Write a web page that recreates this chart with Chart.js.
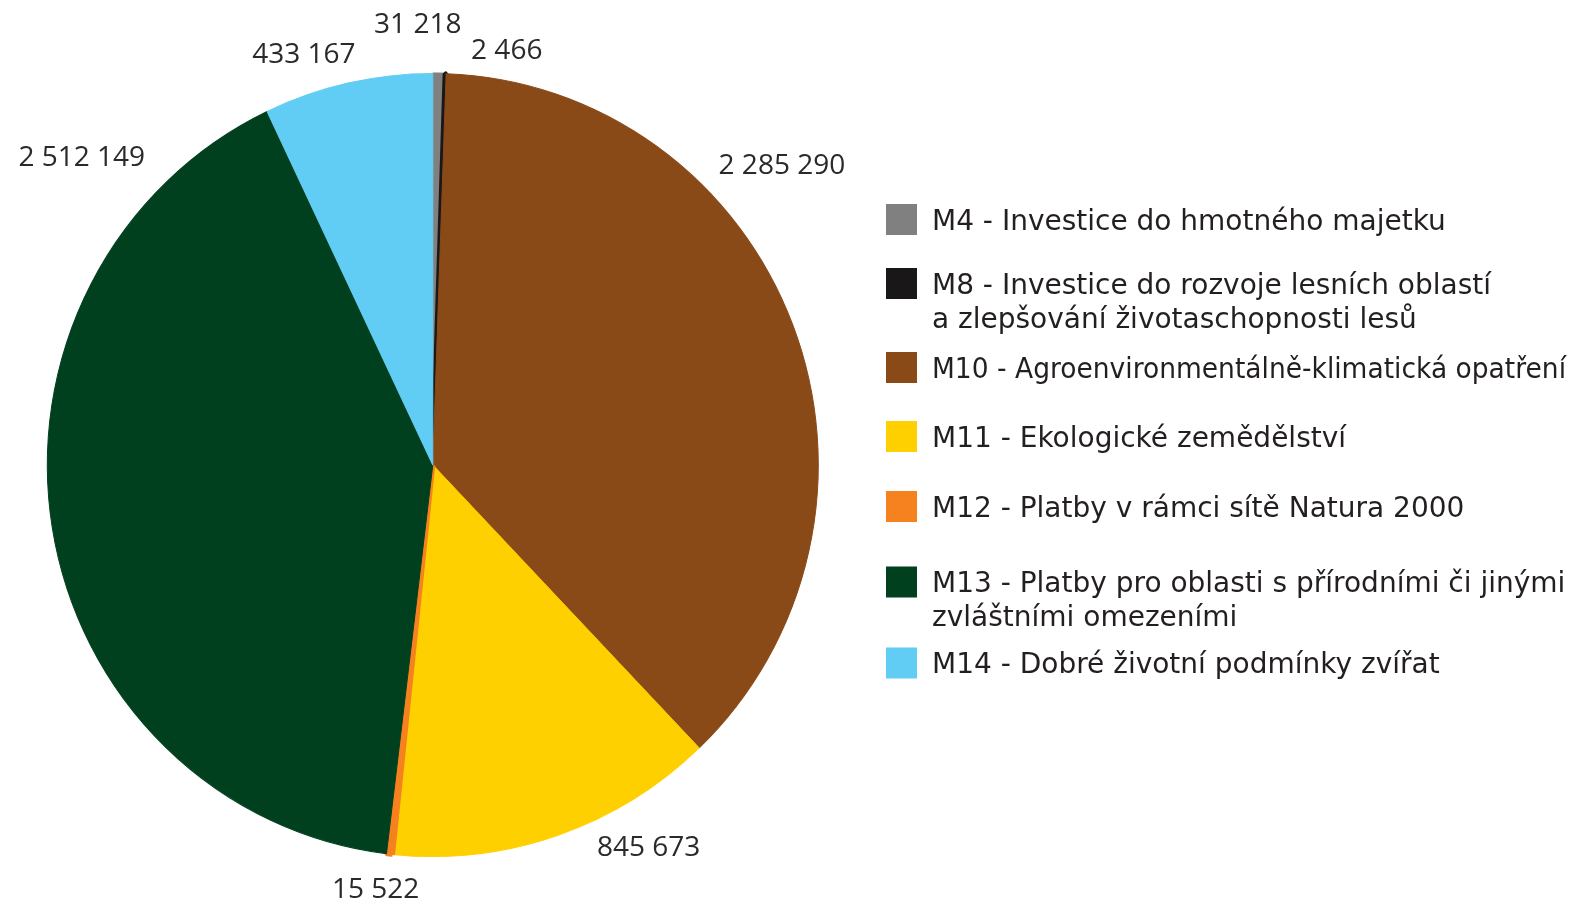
<!DOCTYPE html>
<html>
<head>
<meta charset="utf-8">
<script src="https://cdn.jsdelivr.net/npm/chart.js@4/dist/chart.umd.min.js"></script>
<style>
html,body{margin:0;padding:0;background:#ffffff;overflow:hidden}
canvas{display:block}
</style>
</head>
<body>
<canvas id="c" width="1591" height="909"></canvas>
<script>
// ---- data ----
const categories = [
  'M4 - Investice do hmotného majetku',
  ['M8 - Investice do rozvoje lesních oblastí', 'a zlepšování životaschopnosti lesů'],
  'M10 - Agroenvironmentálně-klimatická opatření',
  'M11 - Ekologické zemědělství',
  'M12 - Platby v rámci sítě Natura 2000',
  ['M13 - Platby pro oblasti s přírodními či jinými', 'zvláštními omezeními'],
  'M14 - Dobré životní podmínky zvířat'
];
const values = [31218, 2466, 2285290, 845673, 15522, 2512149, 433167];

// ---- styles ----
const sliceColors = ['#808080', '#1a1718', '#8a4a18', '#ffd000', '#f5821f', '#00401f', '#62cdf4'];
const sliceBorderWidths = [2, 5, 1, 1, 5, 1, 1];
// label placement: angle (deg clockwise from top) and distance relative to outer radius
const labelPlacement = [
  {angle: -1.95, dist: 1.146},
  {angle: 10.07, dist: 1.097},
  {angle: 49.27, dist: 1.195},
  {angle: 150.5, dist: 1.137},
  {angle: 187.7, dist: 1.108},
  {angle: 311.4, dist: 1.214},
  {angle: 342.6, dist: 1.119}
];

function fmt(v) {
  return String(v).replace(/\B(?=(\d{3})+(?!\d))/g, ' ');
}

// slight vertical stretch of the pie (the original is a little taller than wide)
const stretch = {
  id: 'stretch',
  beforeDatasetsDraw(chart, args, opts) {
    const arc = chart.getDatasetMeta(0).data[0];
    const ctx = chart.ctx;
    ctx.save();
    ctx.translate(arc.x, arc.y);
    ctx.scale(1, opts.ky);
    ctx.translate(-arc.x, -arc.y);
  },
  afterDatasetsDraw(chart) {
    chart.ctx.restore();
  }
};

const valueLabels = {
  id: 'valueLabels',
  afterDatasetsDraw(chart, args, opts) {
    const meta = chart.getDatasetMeta(0);
    const ctx = chart.ctx;
    const data = chart.data.datasets[0].data;
    ctx.save();
    ctx.font = opts.fontSize + 'px ' + opts.fontFamily;
    ctx.fillStyle = opts.color;
    ctx.textAlign = 'center';
    ctx.textBaseline = 'alphabetic';
    meta.data.forEach((arc, i) => {
      const p = opts.placement[i];
      const a = p.angle * Math.PI / 180;
      const r = arc.outerRadius * p.dist;
      const x = arc.x + Math.sin(a) * r;
      const y = arc.y - Math.cos(a) * r;
      ctx.fillText(fmt(data[i]), x, y + opts.fontSize * 0.357);
    });
    ctx.restore();
  }
};

const sideLegend = {
  id: 'sideLegend',
  afterDraw(chart, args, opts) {
    const ctx = chart.ctx;
    const labels = chart.data.labels;
    const bg = chart.data.datasets[0].backgroundColor;
    ctx.save();
    ctx.font = opts.fontSize + 'px ' + opts.fontFamily;
    ctx.textAlign = 'left';
    ctx.textBaseline = 'alphabetic';
    labels.forEach((lab, i) => {
      const cy = opts.rows[i];
      ctx.fillStyle = bg[i];
      ctx.fillRect(opts.boxX, cy - opts.boxSize / 2, opts.boxSize, opts.boxSize);
      ctx.fillStyle = opts.color;
      const lines = Array.isArray(lab) ? lab : [lab];
      lines.forEach((t, j) => {
        ctx.fillText(t, opts.textX, cy + opts.fontSize * 0.365 + j * opts.lineHeight, opts.maxWidth);
      });
    });
    ctx.restore();
  }
};

new Chart(document.getElementById('c'), {
  type: 'pie',
  data: {
    labels: categories,
    datasets: [{
      data: values,
      backgroundColor: sliceColors,
      borderColor: sliceColors,
      borderWidth: sliceBorderWidths,
      hoverBorderWidth: sliceBorderWidths,
      hoverOffset: 0,
      offset: 0,
      clip: false
    }]
  },
  options: {
    responsive: false,
    devicePixelRatio: 1,
    animation: false,
    rotation: 0,
    layout: { padding: { left: 44.8, right: 770.2, top: 76.5, bottom: 55.5 } },
    plugins: {
      legend: { display: false },
      tooltip: { enabled: false },
      stretch: { ky: 1.0156 },
      valueLabels: {
        placement: labelPlacement,
        fontSize: 28,
        fontFamily: '"Open Sans", "Noto Sans", sans-serif',
        color: '#2b2a29'
      },
      sideLegend: {
        rows: [219.5, 283.5, 367.5, 436.5, 506.5, 582, 663],
        boxX: 886,
        boxSize: 31,
        textX: 932,
        lineHeight: 34,
        maxWidth: 634,
        fontSize: 28,
        fontFamily: '"DejaVu Sans", Verdana, sans-serif',
        color: '#231f20'
      }
    }
  },
  plugins: [stretch, valueLabels, sideLegend]
});
</script>
</body>
</html>
